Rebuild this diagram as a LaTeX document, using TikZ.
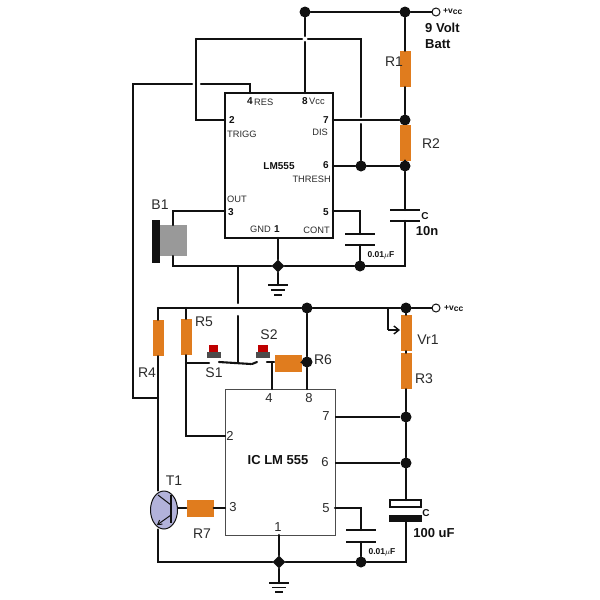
\documentclass[tikz,border=0pt]{standalone}
\usepackage{fontspec}
\setmainfont{Liberation Sans}
\usetikzlibrary{arrows.meta,shapes.geometric}
\definecolor{res}{HTML}{E07C1E}
\definecolor{ink}{HTML}{111111}
\definecolor{lab}{HTML}{2A2A2A}
\tikzset{
 x=1pt,y=-1pt,
 wire/.style={draw=ink,line width=2.1pt,line cap=round},
 thin wire/.style={draw=ink,line width=1.4pt},
 jdot/.style={circle,fill=ink,draw=none,minimum size=11pt,inner sep=0pt},
 vres/.style={rectangle,fill=res,draw=none,minimum width=11pt,minimum height=36pt,inner sep=0pt},
 hres/.style={rectangle,fill=res,draw=none,minimum width=27pt,minimum height=17pt,inner sep=0pt},
 termc/.style={circle,draw=ink,fill=white,line width=1pt,minimum size=8pt,inner sep=0pt},
 plate/.style={draw=ink,line width=2pt},
 lbl/.style={inner sep=0pt,text=lab,font=\fontsize{14}{14}\selectfont},
 pnum/.style={inner sep=0pt,text=ink,font=\bfseries\fontsize{10}{10}\selectfont},
 pname/.style={inner sep=0pt,text=lab,font=\fontsize{9.3}{10}\selectfont},
 bnum/.style={inner sep=0pt,text=lab,font=\fontsize{13}{13}\selectfont},
 boldl/.style={inner sep=0pt,text=ink,font=\bfseries\fontsize{13}{14}\selectfont},
 smalll/.style={inner sep=0pt,text=ink,font=\bfseries\fontsize{8.5}{9}\selectfont},
 chipa/.style={draw=ink,line width=1.8pt,fill=white},
 chipb/.style={draw=ink!75,line width=1pt,fill=white},
}
\begin{document}
\begin{tikzpicture}
\useasboundingbox (0,0) rectangle (600,600);
% chips
\path[chipa] (225,93) rectangle (333,238);
\path[chipb] (225,389) rectangle (335,535);
% upper junctions and terminals
\node[jdot] (t8) at (305,12) {};
\node[jdot] (tr) at (405,12) {};
\node[termc] (vcc1) at (436,12) {};
\node[jdot] (j7) at (405,120) {};
\node[jdot] (j6) at (405,166) {};
\node[jdot] (j6b) at (361,166) {};
\node[jdot] (jc) at (360,266) {};
\node[jdot,diamond,minimum size=13pt] (jg) at (278,266) {};
\node[vres] (R1) at (405,69) {};
\node[vres] (R2) at (405,143) {};
% upper wiring
\draw[wire] (t8) -- (tr);
\draw[wire] (tr) -- (vcc1);
\draw[wire] (tr) -- (R1);
\draw[wire] (R1) -- (j7);
\draw[wire] (j6) -- (R2);
\coordinate (p8) at (305,93);
\coordinate (g8) at (305,36);
\coordinate (g8b) at (305,42);
\draw[wire] (t8) -- (g8);
\draw[wire] (g8b) -- (p8);
\draw[wire] (196,39) -- (302,39);
\draw[wire] (308,39) -- (361,39) -- (361,117);
\draw[wire] (361,124) -- (j6b);
\draw[wire] (333,120) -- (j7);
\draw[wire] (333,166) -- (j6b) -- (j6);
\draw[wire] (225,120) -- (196,120) -- (196,39);
\draw[wire] (250,93) -- (250,84) -- (201,84);
\draw[wire] (192,84) -- (133,84) -- (133,398) -- (158,398);
% upper caps
\coordinate (c1t) at (405,210);
\coordinate (c1b) at (405,221);
\draw[plate] (390,210) -- (420,210);
\draw[plate] (390,221) -- (420,221);
\draw[wire] (j6) -- (c1t);
\draw[wire] (c1b) -- (405,266) -- (jc);
\coordinate (c2t) at (360,234);
\coordinate (c2b) at (360,245);
\draw[plate] (345,234) -- (375,234);
\draw[plate] (345,245) -- (375,245);
\draw[wire] (333,211) -- (360,211) -- (c2t);
\draw[wire] (c2b) -- (jc);
% speaker
\fill[black!40!white] (160,225) rectangle (187,256);
\fill[ink] (152,220) rectangle (160,263);
\draw[wire] (225,211) -- (173,211) -- (173,225);
\draw[wire] (173,256) -- (173,266) -- (jg);
\draw[wire] (jg) -- (jc);
\draw[wire] (278,238) -- (jg);
% upper ground
\coordinate (gnd1) at (278,285);
\draw[wire] (jg) -- (gnd1);
\draw[thin wire] (268,285) -- (288,285);
\draw[thin wire] (271,290) -- (285,290);
\draw[thin wire] (274,295) -- (282,295);
% link between circuits
\draw[wire] (238,266) -- (238,303);
\draw[wire] (238,316) -- (238,363);
% lower junctions
\node[jdot] (b8) at (307,308) {};
\node[jdot] (br) at (406,308) {};
\node[termc] (vcc2) at (436,308) {};
\node[jdot] (b6) at (307,362) {};
\node[jdot] (j72) at (406,417) {};
\node[jdot] (j62) at (406,463) {};
\node[jdot] (jc2) at (361,562) {};
\node[jdot,diamond,minimum size=13pt] (jg2) at (279,562) {};
\node[vres] (R4) at (158,338) {};
\node[vres] (R5) at (186,337) {};
\node[hres] (R6) at (288,363) {};
\node[vres] (Vr1) at (406,333) {};
\node[vres] (R3) at (406,371) {};
\node[hres] (R7) at (200,508) {};
% lower wiring
\draw[wire] (158,308) -- (b8);
\draw[wire] (b8) -- (br);
\draw[wire] (br) -- (vcc2);
\draw[wire] (158,308) -- (R4);
\draw[wire] (186,308) -- (R5);
\draw[wire] (br) -- (Vr1);
\draw[wire] (Vr1) -- (R3);
\draw[wire] (R3) -- (j72);
\draw[wire] (j72) -- (j62);
\draw[thin wire] (388,309) -- (388,330);
\draw[thin wire,-{Straight Barb[length=5pt,width=8pt]}] (388,330) -- (400,330);
\draw[wire] (b8) -- (b6);
\draw[wire] (b6) -- (307,389);
\draw[wire] (R6) -- (b6);
\draw[wire] (R5) -- (186,436) -- (225,436);
\draw[wire] (186,363) -- (209,363);
\draw[wire] (219,362) -- (251,364);
\draw[wire] (252,364) -- (257,362);
\draw[wire] (267,362) -- (274,362);
\draw[wire] (272,362) -- (272,389);
\draw[thin wire] (335,417) -- (j72);
\draw[thin wire] (335,463) -- (j62);
% switches
\fill[red!75!black] (209,345) rectangle (218,352);
\fill[black!70!white] (207,352) rectangle (221,358);
\fill[red!75!black] (258,345) rectangle (268,352);
\fill[black!70!white] (256,352) rectangle (270,358);
% transistor
\node[ellipse,draw=ink,fill=blue!35!gray!45!white,line width=1pt,minimum width=27pt,minimum height=38pt,inner sep=0pt] (T1) at (164,510) {};
\draw[wire] (R4) -- (T1.north -| R4);
\draw[wire] (T1.south -| R4) -- (158,562) -- (jg2);
\draw[wire] (279,535) -- (jg2);
\draw[wire] (jg2) -- (jc2);
\draw[wire] (jc2) -- (406,562) -- (406,522);
\draw[wire] (178,508) -- (R7);
\draw[wire] (R7) -- (225,508);
\draw[line width=1.5pt,draw=ink] (171,495) -- (171,523);
\draw[line width=1pt,draw=ink] (158,495) -- (171,505);
\draw[line width=1pt,draw=ink,-{Straight Barb[length=4pt,width=5pt]}] (171,515) -- (157,525);
% lower caps
\draw[thin wire] (390,500) rectangle (421,507);
\fill[ink] (389,515) rectangle (422,522);
\draw[wire] (j62) -- (406,500);
\draw[wire] (335,508) -- (361,508) -- (361,530);
\draw[plate] (346,530) -- (376,530);
\draw[plate] (346,542) -- (376,542);
\draw[wire] (361,542) -- (jc2);
% lower ground
\draw[wire] (jg2) -- (279,583);
\draw[thin wire] (269,583) -- (289,583);
\draw[thin wire] (272,587.5) -- (286,587.5);
\draw[thin wire] (275,592) -- (283,592);
% labels
\node[smalll,anchor=west] (l1) at (443,12) {+v\raisebox{-1pt}{cc}};
\node[boldl,anchor=west] (l2) at (425,28) {9 Volt};
\node[boldl,anchor=west] (l3) at (425,44) {Batt};
\node[lbl] (l4) at (394,62) {R1};
\node[lbl] (l5) at (431,144) {R2};
\node[pnum] (l6) at (425,216) {C};
\node[boldl] (l7) at (427,231) {10n};
\node[smalll] (l8) at (381,255) {0.01$\mu$F};
\node[lbl] (l9) at (160,205) {B1};
\node[pnum] (a4) at (250,101) {4};
\node[pname,anchor=west] (a4n) at (254,102) {RES};
\node[pnum] (a8) at (305,101) {8};
\node[pname,anchor=west] (a8n) at (309,101) {Vcc};
\node[pnum] (a2) at (232,120) {2};
\node[pname,anchor=west] (a2n) at (227,134) {TRIGG};
\node[pnum] (a7) at (326,120) {7};
\node[pname,anchor=east] (a7n) at (328,132) {DIS};
\node[pnum] (a0) at (279,166) {LM555};
\node[pnum] (a6) at (326,165) {6};
\node[pname,anchor=east] (a6n) at (331,179) {THRESH};
\node[pname,anchor=west] (a3n) at (227,199) {OUT};
\node[pnum] (a3) at (231,212) {3};
\node[pname,anchor=east] (a1n) at (271,229) {GND};
\node[pnum] (a1) at (277,229) {1};
\node[pname,anchor=east] (a5n) at (330,230) {CONT};
\node[pnum] (a5) at (326,212) {5};
\node[lbl] (l10) at (204,322) {R5};
\node[lbl] (l11) at (147,373) {R4};
\node[lbl] (l12) at (269,335) {S2};
\node[lbl] (l13) at (214,373) {S1};
\node[lbl] (l14) at (323,360) {R6};
\node[lbl] (l15) at (428,340) {Vr1};
\node[lbl] (l16) at (424,379) {R3};
\node[lbl] (l17) at (174,481) {T1};
\node[lbl] (l18) at (202,534) {R7};
\node[smalll,anchor=west] (l19) at (444,309) {+v\raisebox{-1pt}{cc}};
\node[pnum] (l20) at (426,513) {C};
\node[boldl] (l21) at (434,533) {100 uF};
\node[smalll] (l22) at (382,552) {0.01$\mu$F};
\node[bnum] (b4) at (269,398) {4};
\node[bnum] (b8n) at (309,398) {8};
\node[bnum] (b2) at (230,436) {2};
\node[bnum] (b3) at (233,507) {3};
\node[bnum] (b1) at (278,527) {1};
\node[bnum] (b5) at (326,508) {5};
\node[bnum] (b6n) at (325,462) {6};
\node[bnum] (b7) at (326,416) {7};
\node[boldl] (b0) at (278,460) {IC LM 555};
\end{tikzpicture}
\end{document}
